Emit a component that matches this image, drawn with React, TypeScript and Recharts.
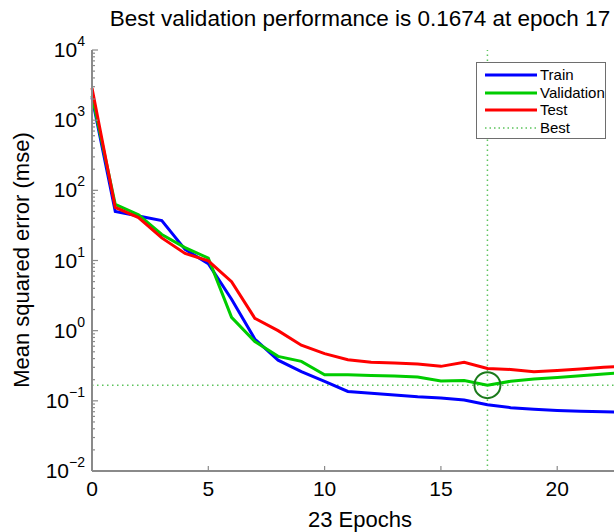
import {
  LineChart,
  Line,
  XAxis,
  YAxis,
  ReferenceLine,
  ReferenceDot,
  Legend,
} from 'recharts'

const FONT = '"Liberation Sans", Arial, Helvetica, sans-serif'
const AXIS_GRAY = '#8a8a8a'
const TRAIN = '#0000ff'
const VALID = '#00cc00'
const TEST = '#ff0000'
const BEST = '#5cc45c'
const CIRCLE = '#1b7a1b'

const epochs = [0, 1, 2, 3, 4, 5, 6, 7, 8, 9, 10, 11, 12, 13, 14, 15, 16, 17, 18, 19, 20, 21, 22, 23]
const train = [2100, 50, 43, 37, 14.4, 9.0, 2.8, 0.76, 0.38, 0.26, 0.19, 0.136, 0.128, 0.121, 0.114, 0.11, 0.103, 0.088, 0.08, 0.076, 0.073, 0.071, 0.07, 0.069]
const validation = [2230, 63, 45, 23.5, 15.3, 10.8, 1.55, 0.7, 0.43, 0.365, 0.235, 0.235, 0.23, 0.226, 0.218, 0.192, 0.195, 0.1674, 0.19, 0.205, 0.215, 0.228, 0.242, 0.255]
const test = [2870, 57, 41, 21, 12.6, 9.9, 5.0, 1.5, 1.0, 0.62, 0.47, 0.385, 0.355, 0.345, 0.335, 0.31, 0.355, 0.29, 0.28, 0.26, 0.27, 0.285, 0.3, 0.315]

const bestEpoch = 17
const bestPerf = 0.1674

const xTicks = [0, 5, 10, 15, 20]
const yMajor = [0.01, 0.1, 1, 10, 100, 1000, 10000]
const yTicks = yMajor.slice(0, -1).flatMap((m) => [1, 2, 3, 4, 5, 6, 7, 8, 9].map((k) => +(k * m).toPrecision(3))).concat([10000])

const data = epochs.map((e, i) => ({
  epoch: e,
  train: train[i],
  validation: validation[i],
  test: test[i],
}))

const legendItems = [
  { label: 'Train', color: TRAIN, dash: undefined, width: 3 },
  { label: 'Validation', color: VALID, dash: undefined, width: 3 },
  { label: 'Test', color: TEST, dash: undefined, width: 3 },
  { label: 'Best', color: BEST, dash: '1.5 3', width: 1.5 },
]

function YTick(props: any) {
  const { x, y, payload } = props
  const lg = Math.log10(payload.value)
  const exp = Math.round(lg)
  const major = Math.abs(lg - exp) < 1e-6
  return (
    <g>
      <line x1={x} y1={y} x2={x + (major ? 6 : 3)} y2={y} stroke={AXIS_GRAY} strokeWidth={1.2} />
      {major && (
        <text x={x - 7} y={y + 7} textAnchor="end" fontFamily={FONT} fontSize={21} fill="#000">
          10
          <tspan dy={-11} fontSize={14}>{exp < 0 ? '\u2212' + -exp : exp}</tspan>
        </text>
      )}
    </g>
  )
}

function XTick(props: any) {
  const { x, y, payload } = props
  return (
    <g>
      <line x1={x} y1={y} x2={x} y2={y - 5} stroke={AXIS_GRAY} strokeWidth={1.2} />
      <text x={x} y={y + 25} textAnchor="middle" fontFamily={FONT} fontSize={21} fill="#000">
        {payload.value}
      </text>
    </g>
  )
}

function LegendBox() {
  return (
    <div
      style={{
        border: '1.5px solid #6e6e6e',
        background: '#fff',
        width: 128,
        padding: '3px 0 2px 0',
        fontFamily: FONT,
        fontSize: 15,
        lineHeight: '17.5px',
      }}
    >
      {legendItems.map((it) => (
        <div key={it.label} style={{ display: 'flex', alignItems: 'center' }}>
          <svg width={62} height={17.5}>
            <line x1={8} x2={60} y1={9} y2={9} stroke={it.color} strokeWidth={it.width} strokeDasharray={it.dash} />
          </svg>
          <span style={{ marginLeft: 1 }}>{it.label}</span>
        </div>
      ))}
    </div>
  )
}

export default function App() {
  return (
    <div style={{ position: 'absolute', left: 0, top: 0, width: 614, height: 532, overflow: 'hidden', background: '#fff' }}>
      <div
        style={{
          position: 'absolute',
          left: 0,
          width: 720,
          top: 6,
          textAlign: 'center',
          fontFamily: FONT,
          fontSize: 22.5,
          whiteSpace: 'nowrap',
        }}
      >
        Best validation performance is 0.1674 at epoch 17
      </div>
      <div
        style={{
          position: 'absolute',
          left: 22,
          top: 260,
          transform: 'translate(-50%, -50%) rotate(-90deg)',
          fontFamily: FONT,
          fontSize: 22,
          whiteSpace: 'nowrap',
        }}
      >
        Mean squared error (mse)
      </div>
      <div
        style={{
          position: 'absolute',
          left: 360,
          top: 520,
          transform: 'translate(-50%, -50%)',
          fontFamily: FONT,
          fontSize: 22,
          whiteSpace: 'nowrap',
        }}
      >
        23 Epochs
      </div>
      <LineChart width={640} height={532} data={data} margin={{ top: 50, right: 13, bottom: 0, left: 0 }}>
        <XAxis
          dataKey="epoch"
          type="number"
          domain={[0, 23]}
          ticks={xTicks}
          height={61}
          tickSize={0}
          tickMargin={0}
          tick={<XTick />}
          tickLine={false}
          axisLine={{ stroke: AXIS_GRAY, strokeWidth: 2 }}
          interval={0}
        />
        <YAxis
          scale="log"
          type="number"
          domain={[0.01, 10000]}
          ticks={yTicks}
          width={92}
          tickSize={0}
          tickMargin={0}
          tick={<YTick />}
          tickLine={false}
          axisLine={{ stroke: AXIS_GRAY, strokeWidth: 2 }}
          interval={0}
          allowDataOverflow
        />
        <ReferenceLine x={bestEpoch} stroke={BEST} strokeWidth={1.5} strokeDasharray="1.5 3.5" />
        <ReferenceLine y={bestPerf} stroke={BEST} strokeWidth={1.5} strokeDasharray="1.5 3.5" />
        <Line dataKey="train" stroke={TRAIN} strokeWidth={3} dot={false} isAnimationActive={false} />
        <Line dataKey="validation" stroke={VALID} strokeWidth={3} dot={false} isAnimationActive={false} />
        <Line dataKey="test" stroke={TEST} strokeWidth={3} dot={false} isAnimationActive={false} />
        <ReferenceDot x={bestEpoch} y={bestPerf} r={13} fill="none" stroke={CIRCLE} strokeWidth={2} />
        <Legend
          layout="vertical"
          align="center"
          verticalAlign="middle"
          content={() => <LegendBox />}
          wrapperStyle={{ position: 'absolute', left: 476, top: 62, width: 132 }}
        />
      </LineChart>
    </div>
  )
}
